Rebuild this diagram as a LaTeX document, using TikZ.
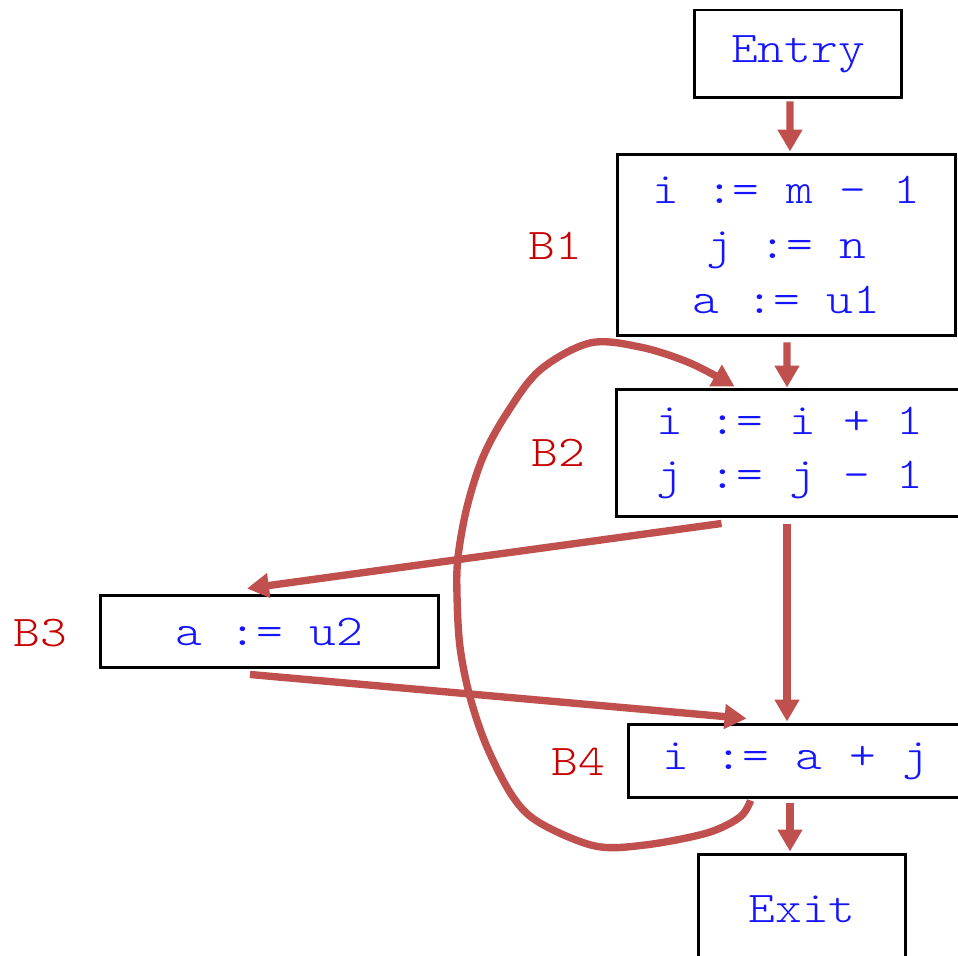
\documentclass[tikz,border=0pt]{standalone}
\usepackage{fontspec}
\setmonofont[FakeStretch=1.16]{Latin Modern Mono Light}
\usetikzlibrary{arrows.meta,calc}
\definecolor{flow}{RGB}{192,80,77}
\definecolor{codeblue}{RGB}{20,20,255}
\definecolor{lblred}{RGB}{200,0,0}
\begin{document}
\begin{tikzpicture}[x=0.02cm,y=-0.02cm,
  block/.style={draw=black,line width=1.7pt,inner sep=0pt,align=center,
    text=codeblue,font=\ttfamily\fontsize{25}{31.2}\selectfont},
  blabel/.style={text=lblred,inner sep=0pt,
    font=\ttfamily\fontsize{25}{31.2}\selectfont},
  flowarrow/.style={draw=flow,line width=4.2pt,line join=round,
    -{Triangle[width=13.5pt,length=12.5pt]}}]
\useasboundingbox (0,0) rectangle (958,956);

% basic blocks
\node[block,minimum width=4.16cm,minimum height=1.76cm] (entry) at (798,54) {Entry};
\node[block,minimum width=6.78cm,minimum height=3.64cm] (b1) at (786.5,245)
  {i := m – 1\\j := n\\a := u1};
\node[block,minimum width=6.96cm,minimum height=2.56cm] (b2) at (790,453)
  {i := i + 1\\j := j - 1};
\node[block,minimum width=6.78cm,minimum height=1.46cm] (b3) at (269.5,631.5) {a := u2};
\node[block,minimum width=6.72cm,minimum height=1.48cm] (b4) at (796,761) {i := a + j};
\node[block,minimum width=4.16cm,minimum height=2.2cm] (exit) at (802,909) {Exit};

% block labels
\node[blabel] (l1) at (555,246) {B1};
\node[blabel] (l2) at (558,453) {B2};
\node[blabel] (l3) at (40,633) {B3};
\node[blabel] (l4) at (578,762) {B4};

% control-flow edges
\draw[flowarrow] ($(entry.south)+(-8,2)$) -- ($(b1.north)+(3.5,-1)$);
\draw[flowarrow] ($(b1.south)+(0.5,5)$) -- ($(b2.north)+(-3,0)$);
\draw[flowarrow] ($(b2.south)+(-3,6)$) -- ($(b4.north)+(-9,-1)$);
\draw[flowarrow] ($(b2.south west)+(107,5)$) -- ($(b3.north)+(-22.5,-5)$);
\draw[flowarrow] ($(b3.south)+(-19.5,5)$) -- ($(b4.north west)+(120,-4)$);
\draw[flowarrow] ($(b4.south)+(-6,4)$) -- ($(exit.north)+(-12,-1)$);

% back edge B4 -> B2
\coordinate (loopS) at ($(b4.south west)+(124,1)$);
\coordinate (loopE) at ($(b2.north west)+(120,-1)$);
\draw[flowarrow] plot[smooth,tension=0.55] coordinates {
  (loopS) (740,817) (707,833) (645,845) (595,846) (540,823) (513,797)
  (487,747) (470,697) (460,647) (457,595) (458,557) (467,507) (483,457)
  (507,413) (540,370) (590,343) (640,347) (690,363) (loopE)};
\end{tikzpicture}
\end{document}
